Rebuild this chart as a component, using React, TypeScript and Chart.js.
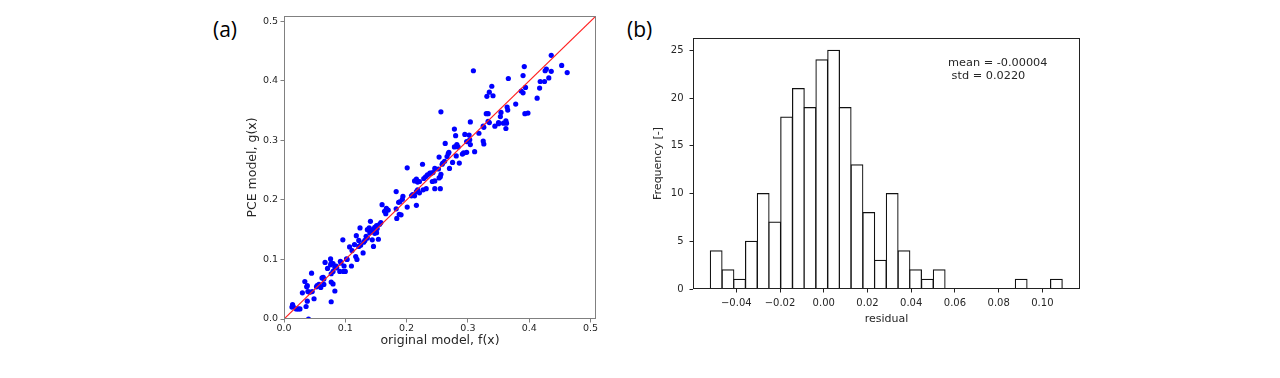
import React, { useEffect, useRef } from 'react';
import { Chart, registerables } from 'chart.js';

Chart.register(...registerables);

// ---- Panel (a): PCE surrogate vs original model ----
const originalModel = [
  0.436, 0.453, 0.462, 0.436, 0.428, 0.426, 0.432, 0.418, 0.425, 0.417,
  0.413, 0.392, 0.390, 0.394, 0.387, 0.390, 0.393, 0.398, 0.378, 0.366,
  0.309, 0.256, 0.339, 0.335, 0.341, 0.331, 0.330, 0.333, 0.354, 0.364,
  0.365, 0.362, 0.353, 0.358, 0.363, 0.350, 0.350, 0.344, 0.362, 0.333,
  0.335, 0.325, 0.326, 0.318, 0.304, 0.325, 0.326, 0.311, 0.302, 0.303,
  0.298, 0.304, 0.295, 0.298, 0.293, 0.291, 0.286, 0.278, 0.280, 0.263,
  0.278, 0.282, 0.284, 0.281, 0.275, 0.269, 0.268, 0.266, 0.270, 0.259,
  0.262, 0.258, 0.253, 0.246, 0.252, 0.243, 0.240, 0.256, 0.255, 0.253,
  0.246, 0.242, 0.255, 0.246, 0.238, 0.234, 0.231, 0.226, 0.228, 0.221,
  0.218, 0.213, 0.216, 0.232, 0.227, 0.218, 0.216, 0.221, 0.210, 0.208,
  0.213, 0.216, 0.201, 0.194, 0.193, 0.201, 0.189, 0.187, 0.191, 0.188,
  0.183, 0.183, 0.184, 0.167, 0.170, 0.160, 0.164, 0.166, 0.158, 0.156,
  0.151, 0.148, 0.152, 0.141, 0.145, 0.151, 0.148, 0.144, 0.139, 0.136,
  0.140, 0.154, 0.134, 0.136, 0.144, 0.146, 0.132, 0.130, 0.124, 0.118,
  0.122, 0.125, 0.122, 0.115, 0.119, 0.117, 0.111, 0.107, 0.129, 0.096,
  0.102, 0.103, 0.098, 0.100, 0.097, 0.110, 0.091, 0.092, 0.093, 0.085,
  0.083, 0.086, 0.077, 0.076, 0.080, 0.076, 0.067, 0.071, 0.077, 0.080,
  0.064, 0.065, 0.062, 0.077, 0.080, 0.083, 0.057, 0.054, 0.053, 0.065,
  0.045, 0.034, 0.038, 0.037, 0.039, 0.042, 0.030, 0.046, 0.049, 0.038,
  0.036, 0.077, 0.014, 0.015, 0.013, 0.020, 0.023, 0.026, 0.040, 0.060,
];

const pceModel = [
  0.443, 0.426, 0.414, 0.416, 0.420, 0.417, 0.405, 0.399, 0.399, 0.388,
  0.371, 0.424, 0.409, 0.389, 0.383, 0.380, 0.345, 0.346, 0.361, 0.404,
  0.417, 0.348, 0.391, 0.381, 0.375, 0.374, 0.345, 0.345, 0.347, 0.356,
  0.351, 0.333, 0.340, 0.329, 0.329, 0.330, 0.328, 0.324, 0.320, 0.332,
  0.330, 0.324, 0.322, 0.312, 0.331, 0.299, 0.294, 0.281, 0.309, 0.301,
  0.298, 0.293, 0.310, 0.280, 0.279, 0.277, 0.262, 0.319, 0.308, 0.295,
  0.289, 0.293, 0.289, 0.274, 0.263, 0.280, 0.278, 0.273, 0.253, 0.262,
  0.265, 0.260, 0.272, 0.253, 0.252, 0.246, 0.245, 0.243, 0.239, 0.237,
  0.232, 0.231, 0.219, 0.219, 0.245, 0.242, 0.239, 0.260, 0.236, 0.231,
  0.230, 0.232, 0.235, 0.219, 0.217, 0.217, 0.214, 0.212, 0.209, 0.207,
  0.207, 0.191, 0.254, 0.206, 0.201, 0.188, 0.197, 0.196, 0.175, 0.176,
  0.214, 0.185, 0.169, 0.186, 0.183, 0.192, 0.181, 0.177, 0.162, 0.159,
  0.157, 0.154, 0.152, 0.164, 0.150, 0.145, 0.144, 0.147, 0.153, 0.150,
  0.145, 0.134, 0.139, 0.136, 0.133, 0.122, 0.132, 0.129, 0.153, 0.140,
  0.132, 0.124, 0.122, 0.125, 0.100, 0.105, 0.115, 0.121, 0.111, 0.133,
  0.101, 0.100, 0.089, 0.080, 0.080, 0.089, 0.080, 0.097, 0.094, 0.089,
  0.087, 0.086, 0.094, 0.091, 0.093, 0.101, 0.095, 0.085, 0.076, 0.080,
  0.070, 0.067, 0.069, 0.062, 0.059, 0.047, 0.058, 0.056, 0.054, 0.058,
  0.077, 0.063, 0.056, 0.054, 0.046, 0.045, 0.044, 0.046, 0.034, 0.030,
  0.021, 0.029, 0.024, 0.021, 0.020, 0.017, 0.017, 0.017, 0.000, 0.053,
];

const identityLine = [0, 0.55];

// ---- Panel (b): residual histogram ----
const residualBinCenters = [
  -0.0492, -0.0438, -0.0385, -0.0331, -0.0277, -0.0224, -0.0170, -0.0116, -0.0063, -0.0009,
  0.0045, 0.0098, 0.0152, 0.0206, 0.0259, 0.0313, 0.0367, 0.0420, 0.0474, 0.0528,
  0.0581, 0.0635, 0.0689, 0.0742, 0.0796, 0.0850, 0.0903, 0.0957, 0.1011, 0.1064,
];
const residualCounts = [
  4, 2, 1, 5, 10, 7, 18, 21, 19, 24,
  25, 19, 13, 8, 3, 10, 4, 2, 1, 2,
  0, 0, 0, 0, 0, 0, 1, 0, 0, 1,
];
const meanText = 'mean = -0.00004';
const stdText = ' std = 0.0220';

const FONT = "'DejaVu Sans', sans-serif";
const TEXT = '#262626';

const framePlugin = (id: string, color: string) => ({
  id,
  afterDatasetsDraw(chart: any) {
    const { ctx, chartArea } = chart;
    const { left, top, right, bottom } = chartArea;
    ctx.save();
    ctx.strokeStyle = color;
    ctx.lineWidth = 1;
    ctx.strokeRect(left + 0.5, top + 0.5, right - left - 1, bottom - top - 1);
    ctx.restore();
  },
});

const statsPlugin = {
  id: 'stats',
  afterDraw(chart: any) {
    const { ctx } = chart;
    ctx.save();
    ctx.font = `11.3px ${FONT}`;
    ctx.fillStyle = TEXT;
    ctx.textBaseline = 'middle';
    ctx.textAlign = 'left';
    ctx.fillText(meanText, 328, 63);
    ctx.fillText(stdText, 328, 76.5);
    ctx.restore();
  },
};

export default function App() {
  const leftRef = useRef<HTMLCanvasElement>(null);
  const rightRef = useRef<HTMLCanvasElement>(null);

  useEffect(() => {
    Chart.defaults.font.family = FONT;
    Chart.defaults.color = TEXT;

    const left = new Chart(leftRef.current as HTMLCanvasElement, {
      type: 'scatter',
      data: {
        datasets: [
          {
            type: 'line',
            data: identityLine.map((v) => ({ x: v, y: v })),
            borderColor: '#ff2020',
            borderWidth: 1.2,
            pointRadius: 0,
            fill: false,
            order: 0,
          } as any,
          {
            type: 'scatter',
            data: originalModel.map((f, i) => ({ x: f, y: pceModel[i] })),
            backgroundColor: '#0000ff',
            borderWidth: 0,
            pointRadius: 2.6,
            order: 1,
          } as any,
        ],
      },
      options: {
        responsive: false,
        animation: false,
        events: [],
        layout: { padding: { left: 0, right: 24, top: 16, bottom: 19 } },
        plugins: { legend: { display: false }, tooltip: { enabled: false } },
        scales: {
          x: {
            type: 'linear',
            min: 0,
            max: 0.509,
            offset: false,
            afterFit: (s: any) => { s.height = 40; },
            ticks: {
              stepSize: 0.1,
              includeBounds: false,
              autoSkip: false,
              maxRotation: 0,
              padding: 0,
              font: { size: 9.5 },
              color: TEXT,
              callback: (v: any) => Number(v).toFixed(1),
            },
            grid: { display: true, drawOnChartArea: false, drawTicks: true, tickLength: 3.5, color: '#808080', offset: false },
            border: { display: false },
            title: { display: true, text: 'original model, f(x)', font: { size: 12.5 }, color: TEXT, padding: { top: 0, bottom: 10.5 } },
          },
          y: {
            type: 'linear',
            min: 0,
            max: 0.509,
            afterFit: (s: any) => { s.width = 84; },
            ticks: {
              stepSize: 0.1,
              includeBounds: false,
              autoSkip: false,
              padding: 2.5,
              font: { size: 9.5 },
              color: TEXT,
              callback: (v: any) => Number(v).toFixed(1),
            },
            grid: { display: true, drawOnChartArea: false, drawTicks: true, tickLength: 3.5, color: '#808080', offset: false },
            border: { display: false },
            title: { display: true, text: 'PCE model, g(x)', font: { size: 12.5 }, color: TEXT, padding: { top: 45.5, bottom: 0 } },
          },
        },
      } as any,
      plugins: [framePlugin('frameA', '#808080')],
    });

    const right = new Chart(rightRef.current as HTMLCanvasElement, {
      type: 'bar',
      data: {
        datasets: [
          {
            data: residualBinCenters.map((c, i) => ({ x: c, y: residualCounts[i] })),
            backgroundColor: '#ffffff',
            borderColor: '#111111',
            borderWidth: 1.2,
            borderSkipped: false,
            inflateAmount: 0.6,
            barPercentage: 1,
            categoryPercentage: 1,
            grouped: false,
          } as any,
        ],
      },
      options: {
        responsive: false,
        animation: false,
        events: [],
        layout: { padding: { left: 0, right: 10, top: 38, bottom: 39 } },
        plugins: { legend: { display: false }, tooltip: { enabled: false } },
        scales: {
          x: {
            type: 'linear',
            min: -0.0598,
            max: 0.1172,
            offset: false,
            afterFit: (s: any) => { s.height = 50; },
            ticks: {
              stepSize: 0.02,
              includeBounds: false,
              autoSkip: false,
              maxRotation: 0,
              padding: 4.5,
              font: { size: 10 },
              color: TEXT,
              callback: (v: any) => {
                const r = Math.round(Number(v) * 100) / 100;
                return r < 0 ? '\u2212' + Math.abs(r).toFixed(2) : r.toFixed(2);
              },
            },
            grid: { display: true, drawOnChartArea: false, drawTicks: true, tickLength: 3.5, color: '#222222', offset: false },
            border: { display: false },
            title: { display: true, text: 'residual', font: { size: 11 }, color: TEXT, padding: { top: 0, bottom: 13.4 } },
          },
          y: {
            type: 'linear',
            min: 0,
            max: 26.3,
            afterFit: (s: any) => { s.width = 73; },
            ticks: {
              stepSize: 5,
              includeBounds: false,
              autoSkip: false,
              padding: 6,
              font: { size: 10 },
              color: TEXT,
              callback: (v: any) => String(Math.round(Number(v))),
            },
            grid: { display: true, drawOnChartArea: false, drawTicks: true, tickLength: 3.5, color: '#222222', offset: false },
            border: { display: false },
            title: { display: true, text: 'Frequency [-]', font: { size: 11 }, color: TEXT, padding: { top: 31.4, bottom: 0 } },
          },
        },
      } as any,
      plugins: [framePlugin('frameB', '#222222'), statsPlugin],
    });

    return () => {
      left.destroy();
      right.destroy();
    };
  }, []);

  const panelLabel: React.CSSProperties = {
    position: 'absolute',
    top: 15,
    fontFamily: "'Open Sans', sans-serif",
    fontSize: 21,
    lineHeight: '28px',
    color: '#000',
  };

  return (
    <div style={{ position: 'fixed', left: 0, top: 0, width: 1280, height: 378, background: '#ffffff', overflow: 'hidden' }}>
      <div style={{ ...panelLabel, left: 213 }}>(a)</div>
      <div style={{ ...panelLabel, left: 627 }}>(b)</div>
      <canvas ref={leftRef} width={420} height={378} style={{ position: 'absolute', left: 200, top: 0, width: 420, height: 378 }} />
      <canvas ref={rightRef} width={470} height={378} style={{ position: 'absolute', left: 620, top: 0, width: 470, height: 378 }} />
    </div>
  );
}
